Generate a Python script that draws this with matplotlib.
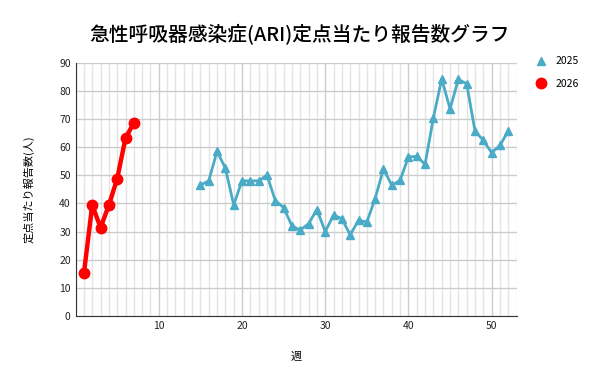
import matplotlib
matplotlib.use("Agg")
import matplotlib.pyplot as plt
from matplotlib.ticker import MultipleLocator

plt.rcParams['font.family'] = ['Noto Sans CJK JP', 'DejaVu Sans']

weeks_2025 = list(range(15, 53))
values_2025 = [46.5, 48, 58.5, 52.5, 39.5, 48, 48, 48, 50, 41, 38.5, 32, 30.5, 32.8, 37.8, 30, 35.8,
               34.6, 28.8, 34, 33.4, 41.7, 52.3, 46.4, 48.2, 56.5, 56.7, 53.9, 70.4, 84.2, 73.6, 84,
               82.5, 65.7, 62.4, 58, 60.6, 65.7]
weeks_2026 = [1, 2, 3, 4, 5, 6, 7]
values_2026 = [15.2, 39.4, 31.4, 39.4, 48.8, 63.2, 68.6]

title = "急性呼吸器感染症(ARI)定点当たり報告数グラフ"
xlabel = "週"
ylabel = "定点当たり報告数(人)"

fig = plt.figure(figsize=(6, 3.84), dpi=100)
ax = fig.add_axes([0.126, 0.177, 0.735, 0.66])

ax.plot(weeks_2025, values_2025, color='#4aabc6', linewidth=2, marker='^', markersize=5.5, label='2025', zorder=3)
ax.plot(weeks_2026, values_2026, color='#ff0000', linewidth=3.2, marker='o', markersize=7.5, label='2026', zorder=4)

ax.set_xlim(0, 53)
ax.set_ylim(0, 90)
ax.xaxis.set_major_locator(MultipleLocator(10))
ax.xaxis.set_minor_locator(MultipleLocator(1))
ax.yaxis.set_major_locator(MultipleLocator(10))
ax.grid(which='major', color='#cccccc', linewidth=1)
ax.grid(which='minor', axis='x', color='#e4e4e4', linewidth=1)
ax.set_axisbelow(True)
for s in ['top', 'right']:
    ax.spines[s].set_visible(False)
for s in ['left', 'bottom']:
    ax.spines[s].set_color('#333333')
ax.tick_params(which='both', length=0, labelsize=7.5, colors='#222222')
ax.set_xticks([10, 20, 30, 40, 50])

ax.set_xlabel(xlabel, fontsize=8, labelpad=15)
ax.set_ylabel(ylabel, fontsize=8, labelpad=18)
fig.suptitle(title, fontsize=14.2, y=0.94, x=0.5, fontweight='medium')

leg = ax.legend(loc='upper left', bbox_to_anchor=(1.02, 1.062), frameon=False, fontsize=7.5,
                handlelength=1.2, handletextpad=0.8, labelspacing=1.2)
for h in leg.legend_handles:
    h.set_linestyle('none')

fig.savefig('out.png', dpi=100)
